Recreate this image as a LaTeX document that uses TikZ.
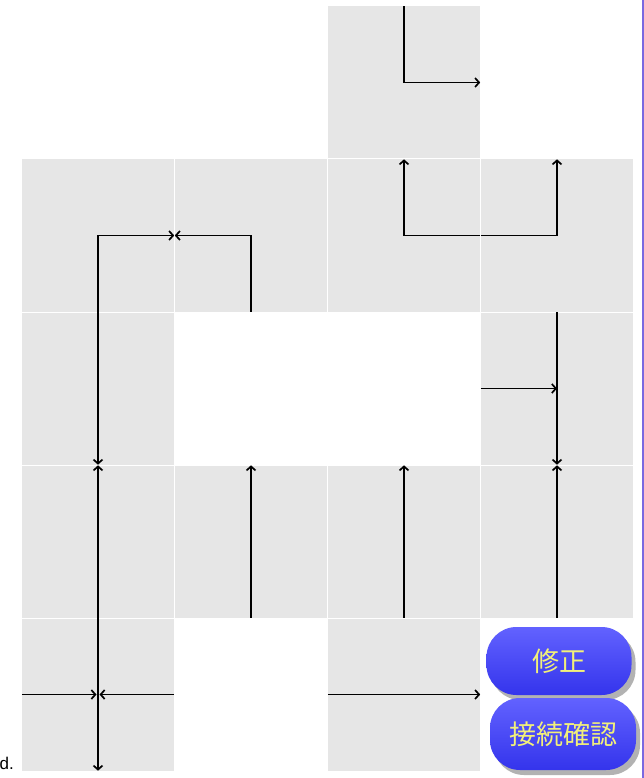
\documentclass[tikz,border=0pt]{standalone}
\usepackage{fontspec}
\setmainfont{Liberation Sans}
\newfontfamily\jpfont{Noto Sans CJK JP}
\usetikzlibrary{arrows.meta,shadows}
\definecolor{cellgray}{HTML}{E6E6E6}
\definecolor{btnblue}{HTML}{3434EC}
\definecolor{btnlight}{HTML}{6262FF}
\definecolor{btntext}{HTML}{F2F07A}
\definecolor{edgeline}{HTML}{7B68E0}

\begin{document}
\begin{tikzpicture}[
x=1pt, y=-1pt,
cell/.style={fill=cellgray, minimum size=152pt, inner sep=0pt},
arr/.style={-{Straight Barb[length=4pt,width=9pt]}, line width=1.7pt},
btn/.style={rounded corners=30pt, top color=btnlight, bottom color=btnblue, text=btntext,
  font=\jpfont\fontsize{27}{27}\selectfont, inner sep=0pt,
  drop shadow={shadow xshift=4pt, shadow yshift=-5pt, fill=black!30, opacity=1}}
]
\useasboundingbox (0,0) rectangle (644,778);
\fill[white] (0,0) rectangle (644,778);

% grid cells
\foreach \r/\c in {0/2, 1/0, 1/1, 1/2, 1/3, 2/0, 2/3, 3/0, 3/1, 3/2, 3/3, 4/0, 4/2}
  \node[cell] (r\r c\c) at ({98+153*\c},{82.5+153*\r}) {};

% connectors
\draw[arr] (r0c2.north) |- (r0c2.east);
\draw[arr] (r1c0.south) |- (r1c0.east);
\draw[arr] (r1c1.south) |- (r1c1.west);
\draw[arr] (r1c2.east) -| (r1c2.north);
\draw[arr] (r1c3.west) -| (r1c3.north);
\draw[arr] (r2c0.north) -- (r2c0.south);
\draw[arr] (r2c3.west) -- (r2c3.center);
\draw[arr] (r2c3.north) -- (r2c3.south);
\draw[arr] (r3c0.south) -- (r3c0.north);
\draw[arr] (r3c1.south) -- (r3c1.north);
\draw[arr] (r3c2.south) -- (r3c2.north);
\draw[arr] (r3c3.south) -- (r3c3.north);
\draw[arr] (r4c0.west) -- ([xshift=-1.5pt]r4c0.center);
\draw[arr] (r4c0.east) -- ([xshift=1.5pt]r4c0.center);
\draw[arr] (r4c0.north) -- (r4c0.south);
\draw[arr] (r4c2.west) -- (r4c2.east);

% buttons
\node[btn, minimum width=145pt, minimum height=68pt] (fix) at (559,661) {修正};
\node[btn, minimum width=146pt, minimum height=72pt] (check) at (563,734) {接続確認};

\node[anchor=base east, inner sep=0pt, font=\fontsize{17}{17}\selectfont] (cut) at (14,769) {d.};
\draw[edgeline, line width=1.5pt] (643,0) -- (643,778);
\end{tikzpicture}
\end{document}
